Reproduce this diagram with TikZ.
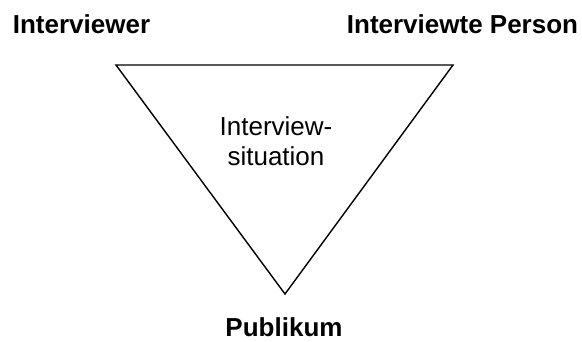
\documentclass[tikz,border=0pt]{standalone}
\usepackage{fontspec}
\setmainfont{Liberation Sans}
\begin{document}
\begin{tikzpicture}[x=1pt,y=-1pt,
  lbl/.style={font=\fontsize{26}{30}\selectfont\bfseries, anchor=base, inner sep=0pt},
  mid/.style={font=\fontsize{26}{30}\selectfont, align=center, inner sep=0pt}]
\useasboundingbox (0,0) rectangle (582,341);
\coordinate (tl) at (116,65);
\coordinate (tr) at (453,65);
\coordinate (bt) at (285,294);
\draw[line width=1.4pt, line join=miter] (tl) -- (tr) -- (bt) -- cycle;
\node[lbl] (iv) at (81.5,33) {Interviewer};
\node[lbl] (ip) at (462.5,33) {Interviewte Person};
\node[lbl] (pb) at (284,336) {Publikum};
\node[mid, anchor=base] (sit) at (276,165) {Interview-\\situation};
\end{tikzpicture}
\end{document}
